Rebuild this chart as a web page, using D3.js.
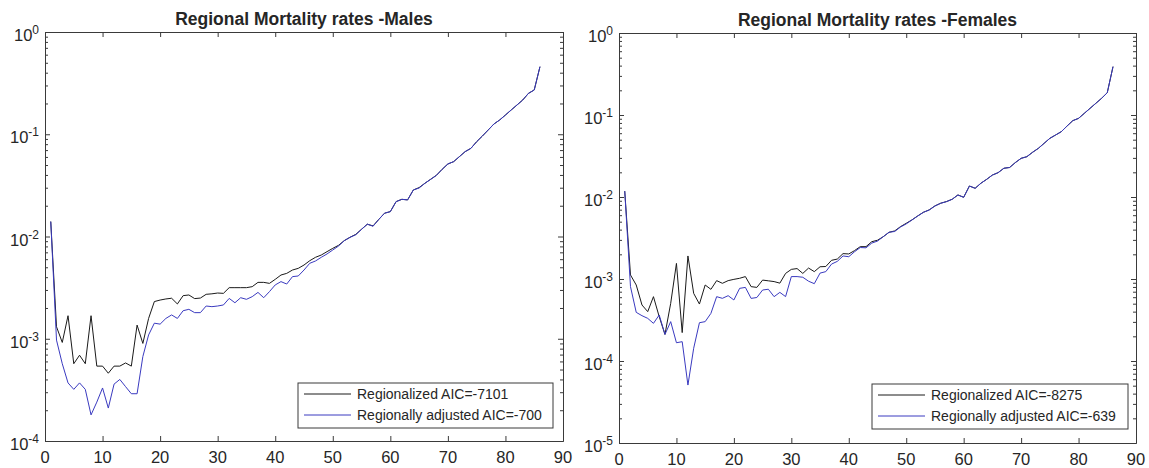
<!DOCTYPE html>
<html>
<head>
<meta charset="utf-8">
<script src="https://cdn.jsdelivr.net/npm/d3@7"></script>
<style>
  html, body { margin: 0; padding: 0; background: #fff; }
  svg { display: block; }
  text { font-family: "Liberation Sans", Arial, Helvetica, sans-serif; fill: #262626; }
</style>
</head>
<body>
<svg id="chart" width="1149" height="468"></svg>
<script>
// ---------------- DATA ----------------
const ages = [1,2,3,4,5,6,7,8,9,10,11,12,13,14,15,16,17,18,19,20,21,22,23,24,25,26,27,28,29,30,
  31,32,33,34,35,36,37,38,39,40,41,42,43,44,45,46,47,48,49,50,51,52,53,54,55,56,57,58,59,60,
  61,62,63,64,65,66,67,68,69,70,71,72,73,74,75,76,77,78,79,80,81,82,83,84,85,86];

const maleRegionalized = [0.0140,0.00131,0.00092,0.00168,0.00057,0.00069,0.00057,0.00168,0.00054,0.00054,
  0.00046,0.00054,0.00054,0.00058,0.00054,0.00136,0.00090,0.00158,0.00231,0.00239,
  0.00245,0.00249,0.00219,0.00264,0.00268,0.00247,0.00250,0.00272,0.00275,0.00280,
  0.00278,0.00316,0.00316,0.00316,0.00316,0.00323,0.00356,0.00356,0.00348,0.00381,
  0.00420,0.00436,0.00470,0.00488,0.00526,0.00580,0.00626,0.00659,0.00711,0.00766,
  0.00820,0.00912,0.00983,0.01050,0.01178,0.01318,0.01270,0.01472,0.01690,0.01752,
  0.02195,0.02310,0.02280,0.02852,0.03010,0.03315,0.03625,0.03965,0.04540,0.05120,
  0.05395,0.06040,0.06760,0.07282,0.08460,0.09616,0.1101,0.1260,0.1379,0.1543,
  0.1726,0.1932,0.2162,0.2513,0.2708,0.458];

const maleAdjusted = [0.0140,0.00097,0.00057,0.00037,0.00032,0.00037,0.00032,0.00018,0.00024,0.00033,
  0.00021,0.00036,0.00040,0.00034,0.00029,0.00029,0.00067,0.00109,0.00142,0.00139,
  0.00158,0.00171,0.00158,0.00188,0.00194,0.00180,0.00180,0.00209,0.00206,0.00209,
  0.00214,0.00248,0.00225,0.00252,0.00243,0.00258,0.00284,0.00252,0.00289,0.00336,
  0.00362,0.00343,0.00405,0.00411,0.00470,0.00547,0.00576,0.00626,0.00675,0.00738,
  0.00807,0.00910,0.00981,0.0104,0.01175,0.0132,0.0126,0.0147,0.0169,0.0175,
  0.0219,0.0231,0.0228,0.0285,0.0298,0.0331,0.0362,0.0396,0.0454,0.0512,
  0.0540,0.0604,0.0676,0.0728,0.0846,0.0962,0.110,0.126,0.138,0.154,
  0.173,0.193,0.216,0.251,0.271,0.458];

const femaleRegionalized = [0.0118,0.00112,0.000845,0.000482,0.000400,0.000609,0.000347,0.000211,0.000505,0.00155,
  0.000222,0.00191,0.000668,0.000495,0.000845,0.000748,0.000955,0.000886,0.000955,0.00099,
  0.00102,0.00107,0.000807,0.00079,0.00097,0.00095,0.00093,0.00089,0.00117,0.00131,
  0.00134,0.00117,0.00136,0.00123,0.00141,0.00142,0.00169,0.00175,0.00204,0.00202,
  0.00222,0.00248,0.00248,0.00285,0.00297,0.00328,0.00371,0.00386,0.00435,0.00478,
  0.00526,0.00588,0.00652,0.00696,0.00779,0.00840,0.00880,0.00939,0.01060,0.00993,
  0.01362,0.01278,0.01472,0.01642,0.01852,0.01982,0.02242,0.02292,0.02632,0.02962,
  0.03102,0.03512,0.03922,0.04512,0.05192,0.05702,0.06262,0.07342,0.08532,0.09102,
  0.1048,0.1205,0.1387,0.1596,0.187,0.389];

const femaleAdjusted = [0.0118,0.000807,0.000392,0.000357,0.000331,0.000288,0.000364,0.000211,0.000302,0.000167,
  0.000172,0.0000509,0.000143,0.000293,0.000302,0.000381,0.000609,0.000581,0.000626,0.000555,
  0.000769,0.00079,0.00058,0.000595,0.000734,0.00075,0.000609,0.000687,0.00061,0.00107,
  0.00107,0.00105,0.00094,0.000877,0.00118,0.00123,0.00152,0.00164,0.00191,0.00187,
  0.00215,0.00242,0.00240,0.00274,0.00290,0.00328,0.00371,0.00380,0.00430,0.00470,
  0.00524,0.00586,0.00650,0.00694,0.00777,0.00838,0.00877,0.00937,0.01058,0.00990,
  0.0136,0.01276,0.0147,0.0164,0.0185,0.0198,0.0224,0.0229,0.0263,0.0296,
  0.0310,0.0351,0.0392,0.0451,0.0519,0.0570,0.0626,0.0734,0.0853,0.0910,
  0.1048,0.1205,0.1387,0.1596,0.187,0.389];

const xTicks = [0,10,20,30,40,50,60,70,80,90];
const maleExponents = [-4,-3,-2,-1,0];
const femaleExponents = [-5,-4,-3,-2,-1,0];
const titles = ["Regional Mortality rates -Males", "Regional Mortality rates -Females"];
const maleLegend = ["Regionalized AIC=-7101", "Regionally adjusted AIC=-700"];
const femaleLegend = ["Regionalized AIC=-8275", "Regionally adjusted AIC=-639"];
const seriesColors = ["#1a1a1a", "#3a3ac0"];

// ---------------- DRAW ----------------
const svg = d3.select("#chart");
const axisColor = "#3a3a3a";

function panel(cfg) {
  const g = svg.append("g");
  const x = d3.scaleLinear().domain([0, 90]).range([cfg.left, cfg.right]);
  const y = d3.scaleLog().domain([Math.pow(10, cfg.exps[0]), 1]).range([cfg.bottom, cfg.top]);

  const majors = cfg.exps.map(e => Math.pow(10, e));
  const minors = [];
  for (let i = 0; i < cfg.exps.length - 1; i++) {
    for (let m = 2; m <= 9; m++) minors.push(m * Math.pow(10, cfg.exps[i]));
  }

  g.append("rect").attr("x", cfg.left).attr("y", cfg.top)
    .attr("width", cfg.right - cfg.left).attr("height", cfg.bottom - cfg.top)
    .attr("fill", "#fff");

  function style(sel) {
    sel.selectAll("path.domain").attr("stroke", axisColor).attr("stroke-width", 1);
    sel.selectAll(".tick line").attr("stroke", axisColor).attr("stroke-width", 1);
    sel.selectAll(".tick text").remove();
  }

  const xb = g.append("g").attr("transform", `translate(0,${cfg.bottom})`)
    .call(d3.axisBottom(x).tickValues(xTicks).tickSize(-5).tickSizeOuter(0).tickFormat(""));
  style(xb);
  const xt = g.append("g").attr("transform", `translate(0,${cfg.top})`)
    .call(d3.axisTop(x).tickValues(xTicks).tickSize(-5).tickSizeOuter(0).tickFormat(""));
  style(xt);

  const yl = g.append("g").attr("transform", `translate(${cfg.left},0)`)
    .call(d3.axisLeft(y).tickValues(majors).tickSize(-5).tickSizeOuter(0).tickFormat(""));
  style(yl);
  const ylm = g.append("g").attr("transform", `translate(${cfg.left},0)`)
    .call(d3.axisLeft(y).tickValues(minors).tickSize(-3).tickSizeOuter(0).tickFormat(""));
  style(ylm);
  const yr = g.append("g").attr("transform", `translate(${cfg.right},0)`)
    .call(d3.axisRight(y).tickValues(majors).tickSize(-5).tickSizeOuter(0).tickFormat(""));
  style(yr);
  const yrm = g.append("g").attr("transform", `translate(${cfg.right},0)`)
    .call(d3.axisRight(y).tickValues(minors).tickSize(-3).tickSizeOuter(0).tickFormat(""));
  style(yrm);

  g.selectAll("text.xl").data(xTicks).enter().append("text")
    .attr("class", "xl")
    .attr("x", d => x(d)).attr("y", cfg.bottom + 22)
    .attr("text-anchor", "middle")
    .attr("font-size", 16.5)
    .text(d => d);

  cfg.exps.forEach(e => {
    const t = g.append("text")
      .attr("x", cfg.left - 6).attr("y", y(Math.pow(10, e)) + 9)
      .attr("text-anchor", "end")
      .attr("font-size", 16.5);
    t.append("tspan").text("10");
    t.append("tspan").attr("dy", -7).attr("font-size", 12).text(String(e));
  });

  const line = d3.line().x((d, i) => x(ages[i])).y(d => y(d));
  cfg.series.forEach((s, k) => {
    g.append("path").datum(s)
      .attr("fill", "none")
      .attr("stroke", seriesColors[k])
      .attr("stroke-width", 1)
      .attr("stroke-linejoin", "round")
      .attr("d", line);
  });

  g.append("text")
    .attr("x", (cfg.left + cfg.right) / 2).attr("y", cfg.top - 7)
    .attr("text-anchor", "middle")
    .attr("font-size", 17.5).attr("font-weight", "bold")
    .attr("fill", "#000")
    .text(cfg.title);

  const lg = g.append("g");
  lg.append("rect")
    .attr("x", cfg.legX).attr("y", cfg.legY)
    .attr("width", cfg.legW).attr("height", 45)
    .attr("fill", "#fff").attr("stroke", axisColor).attr("stroke-width", 1);
  cfg.legend.forEach((label, k) => {
    const yy = cfg.legY + 11 + k * 21;
    lg.append("line")
      .attr("x1", cfg.legX + 6).attr("x2", cfg.legX + 53)
      .attr("y1", yy).attr("y2", yy)
      .attr("stroke", seriesColors[k]).attr("stroke-width", 1);
    lg.append("text")
      .attr("x", cfg.legX + 59).attr("y", yy + 5)
      .attr("font-size", 14)
      .attr("fill", "#000")
      .text(label);
  });
}

panel({
  left: 45, right: 563, top: 32, bottom: 441,
  exps: maleExponents,
  series: [maleRegionalized, maleAdjusted],
  title: titles[0], legend: maleLegend,
  legX: 298, legY: 383, legW: 255
});

panel({
  left: 619, right: 1136, top: 33, bottom: 443,
  exps: femaleExponents,
  series: [femaleRegionalized, femaleAdjusted],
  title: titles[1], legend: femaleLegend,
  legX: 872, legY: 384, legW: 256
});
</script>
</body>
</html>
